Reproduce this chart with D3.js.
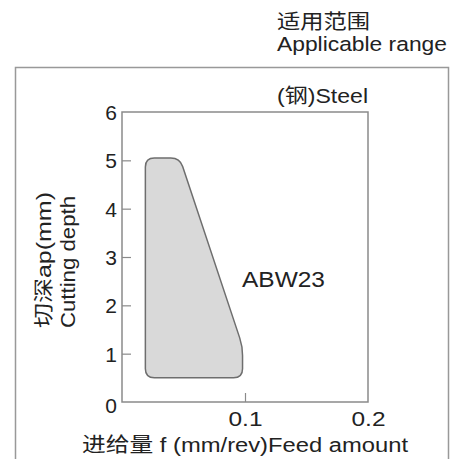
<!DOCTYPE html>
<html><head><meta charset="utf-8">
<script src="https://cdn.jsdelivr.net/npm/d3@7"></script>
<style>
body{margin:0;background:#fff;}
text{font-family:"Liberation Sans",Arial,"Noto Sans CJK SC",sans-serif;fill:#222;}
</style></head>
<body><svg id="c" width="452" height="459"></svg>
<script>
// Data
const regionFeed = [0.019, 0.047, 0.098, 0.098, 0.019];   // f (mm/rev)
const regionDepth = [5.05, 5.05, 1.15, 0.5, 0.5];          // ap (mm)
const yTicks = [0, 1, 2, 3, 4, 5, 6];
const xTicks = [0.1, 0.2];
const regionLabel = "ABW23";
const materialLabel = "(钢)Steel";
const titleLines = ["适用范围", "Applicable range"];
const yTitleLines = ["切深ap(mm)", "Cutting depth"];
const xTitle = "进给量 f (mm/rev)Feed amount";

const svg = d3.select("#c");
const L = 122, R = 368, T = 112, B = 402;
const x = d3.scaleLinear().domain([0, 0.2]).range([L, R]);
const y = d3.scaleLinear().domain([0, 6]).range([B, T]);

function fit(sel, w) { return sel.attr("textLength", w).attr("lengthAdjust", "spacingAndGlyphs"); }

// outer frame
svg.append("path").attr("d", `M15.5,470 V67.5 H448.5 V470`)
  .attr("fill", "none").attr("stroke", "#999").attr("stroke-width", 1.5);

// title
fit(svg.append("text").attr("x", 277).attr("y", 29).attr("font-size", 20)
  .attr("font-family", "Noto Sans CJK SC").text(titleLines[0]), 93);
fit(svg.append("text").attr("x", 277).attr("y", 51).attr("font-size", 20.5).text(titleLines[1]), 170);

// region polygon with rounded corners
const pts = regionFeed.map((f, i) => [x(f), y(regionDepth[i])]);
function roundedPath(p, r) {
  const n = p.length; let d = "";
  for (let i = 0; i < n; i++) {
    const a = p[(i - 1 + n) % n], b = p[i], c = p[(i + 1) % n];
    const v1 = [a[0] - b[0], a[1] - b[1]], v2 = [c[0] - b[0], c[1] - b[1]];
    const l1 = Math.hypot(...v1), l2 = Math.hypot(...v2);
    const rr = Math.min(r, l1 / 2, l2 / 2);
    const s = [b[0] + v1[0] / l1 * rr, b[1] + v1[1] / l1 * rr];
    const e = [b[0] + v2[0] / l2 * rr, b[1] + v2[1] / l2 * rr];
    d += (i === 0 ? "M" : "L") + s[0] + "," + s[1] + "Q" + b[0] + "," + b[1] + " " + e[0] + "," + e[1];
  }
  return d + "Z";
}
svg.append("path").attr("d", roundedPath(pts, 9))
  .attr("fill", "#d9d9d9").attr("stroke", "#6e6e6e").attr("stroke-width", 1.5);

// plot box
svg.append("rect").attr("x", L).attr("y", T).attr("width", R - L).attr("height", B - T)
  .attr("fill", "none").attr("stroke", "#8a8a8a").attr("stroke-width", 1.5);

// y axis
const ya = svg.append("g").attr("transform", `translate(${L},0)`)
  .call(d3.axisLeft(y).tickValues(yTicks).tickFormat(d3.format("d")).tickSize(0).tickPadding(5));
ya.select(".domain").remove();
ya.selectAll("text").attr("font-size", 21).attr("fill", "#222").attr("font-family", "Liberation Sans, Arial")
  .attr("dy", d => d === 0 ? "0.5em" : "0.36em");
ya.selectAll(".tick").filter(d => d > 0 && d < 6).append("line")
  .attr("x1", 0).attr("x2", 9).attr("stroke", "#8a8a8a").attr("stroke-width", 1.2);

// x axis
const xa = svg.append("g").attr("transform", `translate(0,${B})`)
  .call(d3.axisBottom(x).tickValues(xTicks).tickFormat(d3.format(".1f")).tickSize(0).tickPadding(9));
xa.select(".domain").remove();
fit(xa.selectAll("text").attr("font-size", 21).attr("fill", "#222").attr("font-family", "Liberation Sans, Arial"), 34);
xa.selectAll(".tick").filter(d => d < 0.2).append("line")
  .attr("y1", 0).attr("y2", -9).attr("stroke", "#8a8a8a").attr("stroke-width", 1.2);

// labels
fit(svg.append("text").attr("x", R).attr("y", 103).attr("text-anchor", "end").attr("font-size", 20).text(materialLabel), 91);
fit(svg.append("text").attr("x", 242).attr("y", 287).attr("font-size", 22).text(regionLabel), 83);

// axis titles
fit(svg.append("text").attr("x", 82).attr("y", 452).attr("font-size", 20).text(xTitle), 326);
fit(svg.append("text").attr("transform", "translate(51,328) rotate(-90)").attr("font-size", 20).text(yTitleLines[0]), 136);
fit(svg.append("text").attr("transform", "translate(75,328) rotate(-90)").attr("font-size", 20).text(yTitleLines[1]), 132);
</script></body></html>
